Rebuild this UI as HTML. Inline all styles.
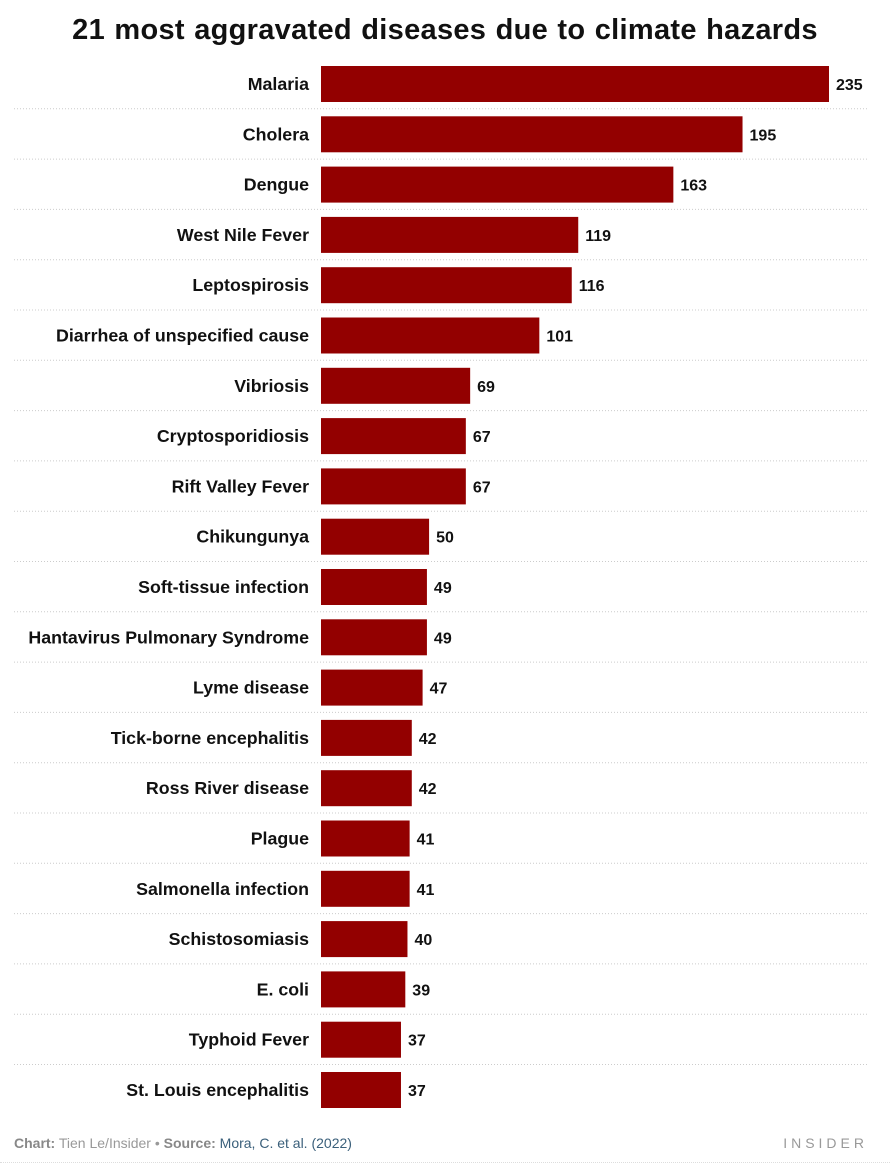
<!DOCTYPE html>
<html><head><meta charset="utf-8"><style>
body{margin:0;background:#fff;font-family:"Liberation Sans",sans-serif;}
#wrap{position:relative;width:890px;height:1164px;overflow:hidden}
h1{position:absolute;top:14px;left:0;width:890px;text-align:center;margin:0;font-size:29px;font-weight:bold;color:#111;letter-spacing:0.3px;word-spacing:1px}
svg{position:absolute;top:0;left:0}
.foot{position:absolute;top:1135px;left:14px;font-size:14px;color:#999}
.foot b{color:#888}
.foot span{color:#3a5f7a}
.logo{position:absolute;top:1135px;right:22px;font-size:14px;letter-spacing:4px;color:#999}
</style></head><body>
<div id="wrap">
<h1>21 most aggravated diseases due to climate hazards</h1>
<svg id="chart" width="890" height="1164"></svg>
<div class="foot"><b>Chart:</b> Tien Le/Insider • <b>Source:</b> <span>Mora, C. et al. (2022)</span></div>
<div class="logo">INSIDER</div>
<div style="position:absolute;left:0;top:1162px;width:890px;border-top:1px dotted #ddd"></div>
</div>
<script>
const categories=["Malaria","Cholera","Dengue","West Nile Fever","Leptospirosis","Diarrhea of unspecified cause","Vibriosis","Cryptosporidiosis","Rift Valley Fever","Chikungunya","Soft-tissue infection","Hantavirus Pulmonary Syndrome","Lyme disease","Tick-borne encephalitis","Ross River disease","Plague","Salmonella infection","Schistosomiasis","E. coli","Typhoid Fever","St. Louis encephalitis"];
const values=[235,195,163,119,116,101,69,67,67,50,49,49,47,42,42,41,41,40,39,37,37];
const svg=document.getElementById('chart');
const NS='http://www.w3.org/2000/svg';
const x0=321,pxPerUnit=(829-321)/235,top0=66,pitch=50.3,bh=36;
const xs=v=>v*pxPerUnit;
const ys=i=>top0+i*pitch;
categories.forEach((c,i)=>{
 const y=ys(i);
 if(i>0){const l=document.createElementNS(NS,'line');
  l.setAttribute('x1',14);l.setAttribute('x2',867);l.setAttribute('y1',y-7.5);l.setAttribute('y2',y-7.5);
  l.setAttribute('stroke','#ccc');l.setAttribute('stroke-dasharray','1,2');
  
  
  svg.appendChild(l);}
 const r=document.createElementNS(NS,'rect');
 r.setAttribute('x',x0);r.setAttribute('y',y);r.setAttribute('width',xs(values[i]));r.setAttribute('height',bh);r.setAttribute('fill','#930000');
 
 
 svg.appendChild(r);
 const t=document.createElementNS(NS,'text');
 t.setAttribute('x',309);t.setAttribute('y',y+bh/2+6);t.setAttribute('text-anchor','end');
 t.setAttribute('font-size','17.8');t.setAttribute('font-weight','bold');t.setAttribute('fill','#111');
 t.setAttribute('font-family','Liberation Sans, sans-serif');t.textContent=c;
 
 
 svg.appendChild(t);
 const v=document.createElementNS(NS,'text');
 v.setAttribute('x',x0+xs(values[i])+7);v.setAttribute('y',y+bh/2+6);
 v.setAttribute('font-size','16');v.setAttribute('font-weight','bold');v.setAttribute('fill','#111');
 v.setAttribute('font-family','Liberation Sans, sans-serif');v.textContent=values[i];
 
 
 svg.appendChild(v);
});
</script>
</body></html>
